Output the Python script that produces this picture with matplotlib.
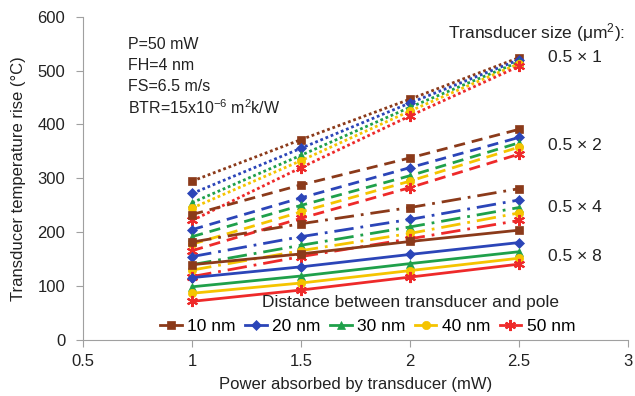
import matplotlib
matplotlib.use("Agg")
import matplotlib.pyplot as plt
from matplotlib.lines import Line2D

plt.rcParams['font.family'] = ['Liberation Sans', 'DejaVu Sans']
plt.rcParams['mathtext.fontset'] = 'custom'
plt.rcParams['mathtext.rm'] = 'Liberation Sans'
plt.rcParams['mathtext.it'] = 'Liberation Sans:italic'

power = [1, 1.5, 2, 2.5]
distances = ["10 nm", "20 nm", "30 nm", "40 nm", "50 nm"]
sizes = ["0.5 \u00d7 1", "0.5 \u00d7 2", "0.5 \u00d7 4", "0.5 \u00d7 8"]
params = ["P=50 mW", "FH=4 nm", "FS=6.5 m/s", "BTR=15x10$^{-6}$ m$^2$k/W"]

size_1 = [
    [295, 372, 447, 524],
    [272, 356, 440, 520],
    [255, 343, 432, 516],
    [245, 333, 425, 513],
    [222, 320, 416, 508],
]
size_2 = [
    [233, 288, 338, 391],
    [205, 264, 320, 376],
    [192, 250, 305, 366],
    [178, 238, 295, 358],
    [166, 226, 283, 345],
]
size_4 = [
    [182, 216, 246, 281],
    [155, 192, 224, 260],
    [140, 176, 210, 246],
    [130, 166, 198, 236],
    [118, 155, 188, 222],
]
size_8 = [
    [140, 160, 183, 204],
    [116, 136, 159, 181],
    [99, 119, 142, 164],
    [87, 106, 129, 152],
    [72, 93, 117, 141],
]
all_sizes = [size_1, size_2, size_4, size_8]

colors = ["#8B3A1A", "#2B45B8", "#1FA04A", "#F5C400", "#EE2A2A"]
markers = ["s", "D", "^", "o", (6, 2, 0)]
msizes = [6, 5, 6, 6, 8]
styles = [(0, (1, 1)), (0, (4, 2.5)), (0, (7, 2.5, 1, 2.5)), "-"]
label_y = [524, 361, 246, 155]

fig = plt.figure(figsize=(6.35, 3.96), dpi=100)
ax = fig.add_axes([0.131, 0.141, 0.858, 0.817])

for s_idx, data in enumerate(all_sizes):
    for d_idx, vals in enumerate(data):
        ax.plot(power, vals, color=colors[d_idx], linestyle=styles[s_idx], lw=2,
                marker=markers[d_idx], markersize=msizes[d_idx],
                markeredgewidth=1.5 if d_idx == 4 else 0.5,
                markeredgecolor=colors[d_idx], zorder=3)

ax.set_xlim(0.5, 3)
ax.set_ylim(0, 600)
ax.set_xticks([0.5, 1, 1.5, 2, 2.5, 3])
ax.set_xticklabels(["0.5", "1", "1.5", "2", "2.5", "3"])
ax.set_yticks(range(0, 601, 100))
for sp in ["top", "right"]:
    ax.spines[sp].set_visible(False)
for sp in ["left", "bottom"]:
    ax.spines[sp].set_color("#a0a0a0")
ax.tick_params(axis="both", colors="#a0a0a0", labelcolor="#222222", labelsize=12, length=5)
ax.tick_params(axis="y", pad=8)
ax.tick_params(axis="x", pad=5)
ax.set_xlabel("Power absorbed by transducer (mW)", fontsize=12, color="#222222", labelpad=6)
ax.set_ylabel("Transducer temperature rise (\u00b0C)", fontsize=12, color="#222222", labelpad=8)

for i, line in enumerate(params):
    ax.text(0.706, 549 - i * 39.5, line, fontsize=11.5, va="center", ha="left", color="#222222")
ax.text(2.985, 571, "Transducer size (\u03bcm$^2$):", fontsize=12.5, ha="right", va="center",
        color="#222222")
for lab, yy in zip(sizes, label_y):
    ax.text(2.633, yy, lab, fontsize=12.5, ha="left", va="center", color="#222222")

ax.text(2.0, 70, "Distance between transducer and pole", fontsize=12.5, ha="center", va="center",
        color="#222222")
handles = [Line2D([0], [0], color=colors[i], lw=2, marker=markers[i], markersize=msizes[i],
                  markeredgewidth=1.5 if i == 4 else 0.5, markeredgecolor=colors[i])
           for i in range(5)]
leg = ax.legend(handles, distances, loc="center", bbox_to_anchor=(0.522, 0.042), ncol=5,
                frameon=False, fontsize=12.5, handlelength=1.25, handletextpad=0.3,
                columnspacing=0.55, borderaxespad=0, borderpad=0)

fig.savefig("out.png", dpi=100)
